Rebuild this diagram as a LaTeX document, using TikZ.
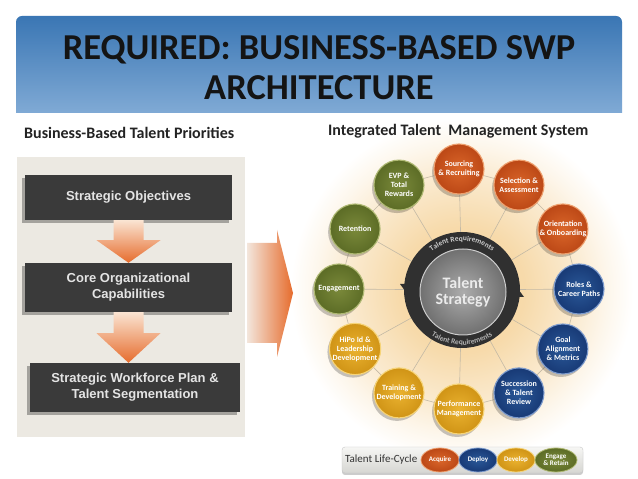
\documentclass[tikz,border=0pt]{standalone}
\usepackage{fontspec}
\setmainfont{Carlito}
\newfontfamily\arialf{Liberation Sans}
\usetikzlibrary{shapes.geometric,shadows,decorations.text}
\pgfdeclarelayer{bg}
\pgfsetlayers{bg,main}

\definecolor{bannerTop}{RGB}{58,118,180}
\definecolor{bannerBot}{RGB}{128,170,213}
\definecolor{headc}{RGB}{35,35,35}
\definecolor{panelc}{RGB}{236,233,226}
\definecolor{boxc}{RGB}{58,58,58}
\definecolor{boxtext}{RGB}{228,228,228}
\definecolor{arrL}{RGB}{250,228,210}
\definecolor{arrD}{RGB}{230,108,45}
\definecolor{bigL}{RGB}{243,230,220}
\definecolor{glowc}{RGB}{245,210,152}
\definecolor{spokec}{RGB}{195,185,165}
\definecolor{ringc}{RGB}{48,48,48}
\definecolor{grayL}{RGB}{172,172,172}
\definecolor{grayD}{RGB}{112,112,112}
\definecolor{grayR}{RGB}{205,205,205}
% satellite colours: base (outer), L (inner), R (rim)
\definecolor{cOr}{RGB}{188,72,22}
\definecolor{cOrL}{RGB}{218,102,42}
\definecolor{cOrR}{RGB}{238,160,110}
\definecolor{cBl}{RGB}{24,58,118}
\definecolor{cBlL}{RGB}{42,88,152}
\definecolor{cBlR}{RGB}{125,155,205}
\definecolor{cGo}{RGB}{208,148,22}
\definecolor{cGoL}{RGB}{234,178,48}
\definecolor{cGoR}{RGB}{246,212,120}
\definecolor{cGr}{RGB}{92,108,38}
\definecolor{cGrL}{RGB}{122,137,58}
\definecolor{cGrR}{RGB}{175,185,115}
\definecolor{legL}{RGB}{246,246,244}
\definecolor{legD}{RGB}{214,214,210}

\pgfdeclareradialshading{glowsh}{\pgfpoint{0bp}{0bp}}{%
  color(0bp)=(glowc); color(9bp)=(glowc!82!white); color(16bp)=(glowc!48!white);
  color(21bp)=(glowc!18!white); color(24.5bp)=(white); color(50bp)=(white)}

\newcommand\sattxt{\fontsize{8}{9}\selectfont\bfseries}

\tikzset{
  stepbox/.style={fill=boxc, text=boxtext, font=\arialf\bfseries\fontsize{13}{16}\selectfont,
    align=center, inner sep=0pt,
    drop shadow={shadow xshift=-3pt, shadow yshift=-3pt, opacity=0.3, fill=black}},
  sat/.style={circle, minimum size=50pt, inner sep=0pt, align=center, text=white,
    font=\sattxt, line width=1.1pt, draw=#1R, inner color=#1L, outer color=#1,
    drop shadow={shadow xshift=-2pt, shadow yshift=-3pt, opacity=0.22, fill=black}},
  lcoval/.style={ellipse, minimum width=38pt, minimum height=24pt, inner sep=0pt,
    align=center, text=white, font=\fontsize{7}{7.5}\selectfont\bfseries,
    line width=0.8pt, draw=#1R, inner color=#1L, outer color=#1},
  spoke/.style={draw=spokec, line width=0.6pt},
  fatarrow/.style={top color=arrL, bottom color=arrD},
  heading/.style={anchor=west, inner sep=0pt, font=\fontsize{16}{18}\selectfont\bfseries, text=headc},
}

\begin{document}
\begin{tikzpicture}[x=1pt,y=1pt]
\useasboundingbox (0,0) rectangle (638,479);

% ---------- banner ----------
\shade[top color=bannerTop, bottom color=bannerBot]
  (16,366) -- (16,457) arc[start angle=180, end angle=90, radius=6]
  -- (616,463) arc[start angle=90, end angle=0, radius=6] -- (622,366) -- cycle;
\node[font=\fontsize{36.5}{40}\selectfont\bfseries, text=black!92, align=center] (title) at (319,411)
  {REQUIRED: BUSINESS-BASED SWP\\ARCHITECTURE};

% ---------- left part ----------
\node[heading] (lh) at (24,346) {Business-Based Talent Priorities};
\fill[panelc] (17,42) rectangle (245,322);

\node[stepbox, minimum width=207pt, minimum height=45pt] (b1) at (128.5,281.5) {Strategic Objectives};
\node[stepbox, minimum width=207pt, minimum height=49pt] (b2) at (128.5,191.5) {Core Organizational\\Capabilities};
\node[stepbox, minimum width=210pt, minimum height=49pt] (b3) at (135,91.5) {Strategic Workforce Plan \&\\Talent Segmentation};

\shade[fatarrow] ([xshift=-15pt]b1.south) -- ([xshift=15pt]b1.south) -- ([xshift=15pt,yshift=-20pt]b1.south)
  -- ([xshift=32pt,yshift=-20pt]b1.south) -- (b1.south |- b2.north)
  -- ([xshift=-32pt,yshift=-20pt]b1.south) -- ([xshift=-15pt,yshift=-20pt]b1.south) -- cycle;
\shade[fatarrow] ([xshift=-15pt]b2.south) -- ([xshift=15pt]b2.south) -- ([xshift=15pt,yshift=-21pt]b2.south)
  -- ([xshift=32pt,yshift=-21pt]b2.south) -- (b2.south |- b3.north)
  -- ([xshift=-32pt,yshift=-21pt]b2.south) -- ([xshift=-15pt,yshift=-21pt]b2.south) -- cycle;

% big arrow
\shade[left color=bigL, right color=arrD]
  (247,236) -- (277,236) -- (277,249) -- (293,186) -- (277,122) -- (277,136) -- (247,136) -- cycle;

% ---------- right part ----------
\node[heading] (rh) at (328,348) {Integrated Talent\ \ Management System};

\coordinate (C) at (459,190);

\node[circle, minimum size=116pt, inner sep=0pt, fill=ringc] (ring) at (462,189) {};
\fill[ringc] (400,195) -- (422,195) -- (411,180) -- cycle;
\fill[ringc] (502,182) -- (524,182) -- (513,197) -- cycle;
\node[circle, minimum size=86pt, inner sep=0pt, inner color=grayL, outer color=grayD,
  draw=grayR, line width=1pt, text=white!92!black, align=center,
  font=\fontsize{16}{16}\selectfont\bfseries] (ts) at (463,187) {Talent\\Strategy};

\path[decorate, decoration={text along path, text align=center, text color=white!80!black,
  text={|\fontsize{7.5}{7.5}\selectfont\bfseries|Talent Requirements}}]
  ([shift={(145:49)}]462,189) arc[start angle=145, end angle=35, radius=49];
\path[decorate, decoration={text along path, text align=center, text color=white!70!black,
  text={|\fontsize{7.5}{7.5}\selectfont\bfseries|Talent Requirements}}]
  ([shift={(215:55)}]462,189) arc[start angle=215, end angle=325, radius=55];

\foreach \n/\a/\c/\t in {
  s1/90/cOr/{Sourcing\\\& Recruiting},
  s2/60/cOr/{Selection \&\\Assessment},
  s3/30/cOr/{Orientation\\\& Onboarding},
  s4/0/cBl/{Roles \&\\Career Paths},
  s5/-30/cBl/{Goal\\Alignment\\\& Metrics},
  s6/-60/cBl/{Succession\\\& Talent\\Review},
  s7/-90/cGo/{Performance\\Management},
  s8/-120/cGo/{Training \&\\Development},
  s9/-150/cGo/{HiPo Id \&\\Leadership\\Development},
  s10/180/cGr/{Engagement},
  s11/150/cGr/{Retention},
  s12/120/cGr/{EVP \&\\Total\\Rewards}}
  \node[sat=\c] (\n) at ([shift={(\a:120)}]C) {\t};

\begin{pgfonlayer}{bg}
  \fill[white] (0,0) rectangle (638,479);
  \shade[shading=glowsh] (462,189) circle (175);
  \foreach \i in {1,...,12} \draw[spoke] (ring) -- (s\i);
  \foreach \i/\j in {1/2,2/3,3/4,4/5,5/6,6/7,7/8,8/9,9/10,10/11,11/12,12/1}
    \draw[spoke] (s\i) -- (s\j);
\end{pgfonlayer}

% ---------- legend ----------
\node[draw=black!22, rounded corners=3pt, top color=legL, bottom color=legD,
  minimum width=241pt, minimum height=26pt, inner sep=0pt,
  drop shadow={shadow xshift=0pt, shadow yshift=-2pt, opacity=0.2, fill=black}] (leg) at (462.5,19) {};
\node[anchor=west, inner sep=0pt, font=\fontsize{11}{12}\selectfont, text=black!80] (lct) at (345,19) {Talent Life-Cycle};
\node[lcoval=cOr] (o1) at (440,19) {Acquire};
\node[lcoval=cBl] (o2) at (478,19) {Deploy};
\node[lcoval=cGo] (o3) at (516,19) {Develop};
\node[lcoval=cGr, minimum width=42pt] (o4) at (556,19) {Engage\\\& Retain};
\end{tikzpicture}
\end{document}
